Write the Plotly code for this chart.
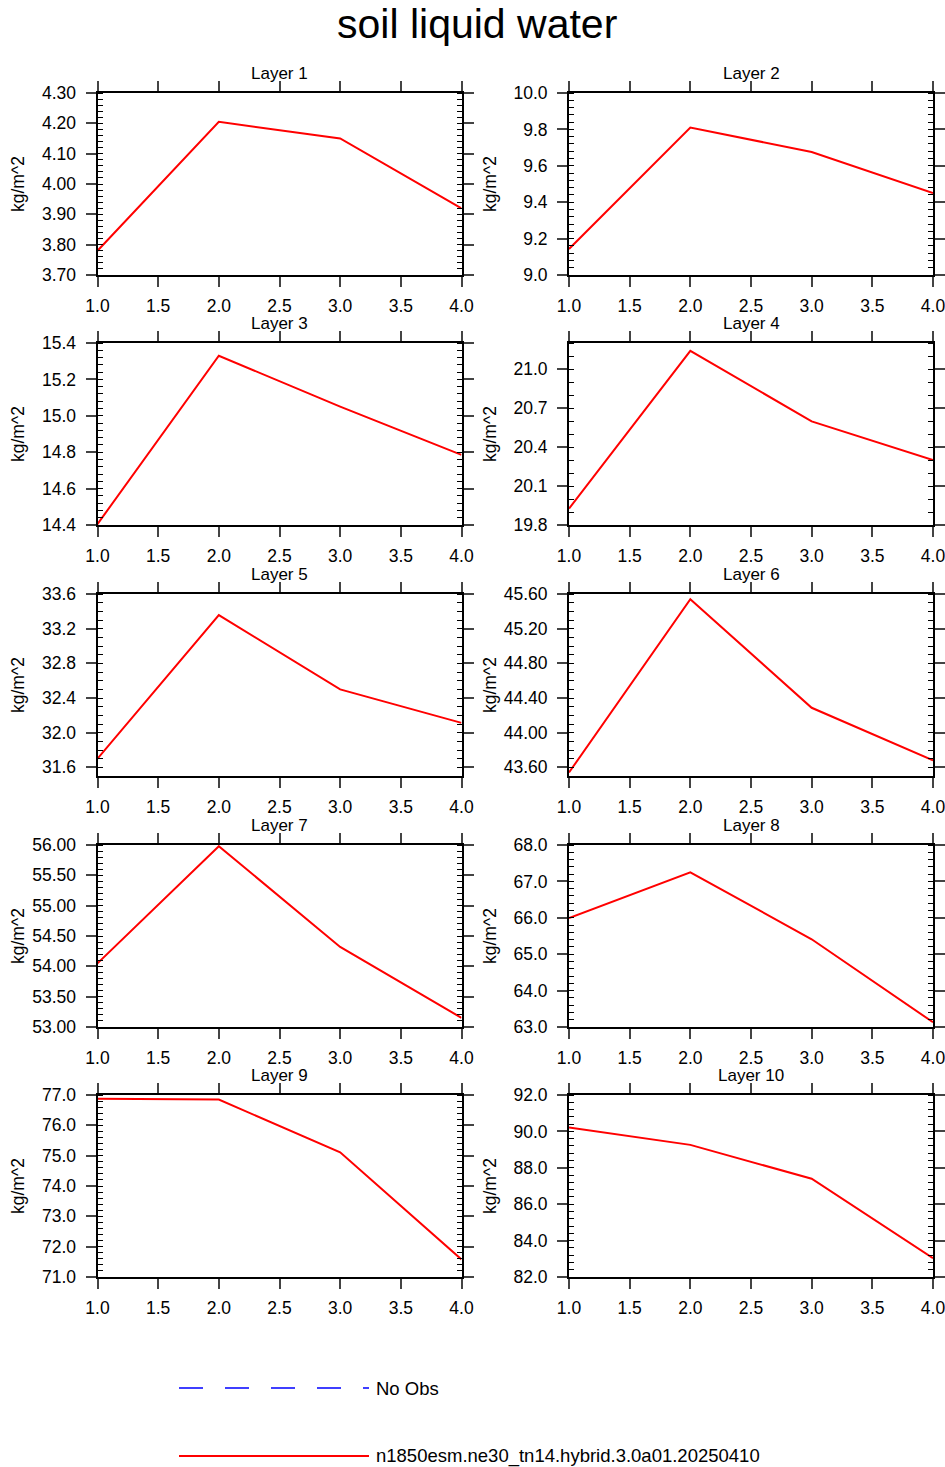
import plotly.graph_objects as go
from plotly.subplots import make_subplots

# data
years = [1.0, 2.0, 3.0, 4.0]
layer_names = ["Layer 1", "Layer 2", "Layer 3", "Layer 4", "Layer 5",
               "Layer 6", "Layer 7", "Layer 8", "Layer 9", "Layer 10"]

layer1 = [3.78, 4.205, 4.15, 3.92]
layer2 = [9.143, 9.81, 9.676, 9.45]
layer3 = [14.405, 15.33, 15.05, 14.785]
layer4 = [19.926, 21.14, 20.597, 20.30]
layer5 = [31.70, 33.357, 32.499, 32.113]
layer6 = [43.54, 45.54, 44.287, 43.68]
layer7 = [54.05, 55.98, 54.32, 53.15]
layer8 = [65.99, 67.25, 65.41, 63.13]
layer9 = [76.88, 76.85, 75.11, 71.58]
layer10 = [90.22, 89.26, 87.40, 83.03]
series = [layer1, layer2, layer3, layer4, layer5,
          layer6, layer7, layer8, layer9, layer10]

# y axis settings per layer: range, first tick, major step, minor step, format
y_ranges = [[3.70, 4.30], [9.0, 10.0], [14.4, 15.4], [19.8, 21.2], [31.5, 33.6],
            [43.5, 45.6], [53.0, 56.0], [63.0, 68.0], [71.0, 77.0], [82.0, 92.0]]
y_tick0 = [3.70, 9.0, 14.4, 19.8, 31.6, 43.6, 53.0, 63.0, 71.0, 82.0]
y_dtick = [0.1, 0.2, 0.2, 0.3, 0.4, 0.4, 0.5, 1.0, 1.0, 2.0]
y_minor = [0.02, 0.04, 0.04, 0.1, 0.1, 0.1, 0.1, 0.2, 0.2, 0.4]
y_fmt = [".2f", ".1f", ".1f", ".1f", ".1f", ".2f", ".2f", ".1f", ".1f", ".1f"]

legend_labels = ["No Obs", "n1850esm.ne30_tn14.hybrid.3.0a01.20250410"]

W, H = 945, 1467
FONT = "Liberation Sans, Arial, Helvetica, sans-serif"


def px(xp):
    return xp / W


def py(yp):
    return 1 - yp / H


col_left = [97.5, 569]
col_w = 364
row_top = [93, 343, 594, 845, 1095]
row_h = 182

fig = make_subplots(rows=5, cols=2)

for i, vals in enumerate(series):
    r, c = i // 2 + 1, i % 2 + 1
    fig.add_trace(go.Scatter(x=years, y=vals, mode="lines",
                             line=dict(color="red", width=2),
                             showlegend=False, hoverinfo="skip"), row=r, col=c)
    x0 = px(col_left[c - 1])
    x1 = px(col_left[c - 1] + col_w)
    y1 = py(row_top[r - 1])
    y0 = py(row_top[r - 1] + row_h)
    fig.update_xaxes(domain=[x0, x1], range=[1, 4], tick0=1, dtick=0.5,
                     tickformat=".1f", ticks="outside", ticklen=10, tickwidth=1.5,
                     showline=True, linewidth=2, linecolor="black", mirror="ticks",
                     showgrid=False, zeroline=False, ticklabelstandoff=4,
                     automargin=False, ticklabeloverflow="allow",
                     tickfont=dict(family=FONT, size=17.5, color="black"),
                     row=r, col=c)
    fig.update_yaxes(domain=[y0, y1], range=y_ranges[i], tick0=y_tick0[i],
                     dtick=y_dtick[i], tickformat=y_fmt[i], ticks="outside",
                     ticklen=10, tickwidth=1.5,
                     minor=dict(ticks="inside", ticklen=5, tickwidth=1.2,
                                tick0=y_tick0[i], dtick=y_minor[i],
                                tickcolor="black", showgrid=False),
                     showline=True, linewidth=2, linecolor="black", mirror="ticks",
                     showgrid=False, zeroline=False, ticklabelstandoff=6,
                     automargin=False, ticklabeloverflow="allow",
                     tickfont=dict(family=FONT, size=17.5, color="black"),
                     row=r, col=c)
    # panel title and y axis title
    fig.add_annotation(text=layer_names[i], xref="paper", yref="paper",
                       x=(x0 + x1) / 2, y=y1 + 8 / H, yanchor="bottom",
                       xanchor="center", showarrow=False,
                       font=dict(family=FONT, size=17, color="black"))
    fig.add_annotation(text="kg/m^2", xref="paper", yref="paper",
                       x=px([18, 490][c - 1]), y=(y0 + y1) / 2, textangle=-90,
                       xanchor="center", yanchor="middle", showarrow=False,
                       font=dict(family=FONT, size=17.5, color="black"))

# legend drawn below the panels
fig.add_shape(type="line", xref="paper", yref="paper",
              x0=px(179), x1=px(369), y0=py(1388), y1=py(1388),
              line=dict(color="blue", width=1.5, dash="24px,22px"))
fig.add_shape(type="line", xref="paper", yref="paper",
              x0=px(179), x1=px(369), y0=py(1456), y1=py(1456),
              line=dict(color="red", width=2))
for lab, ypx in zip(legend_labels, [1388, 1456]):
    fig.add_annotation(text=lab, xref="paper", yref="paper", x=px(374),
                       y=py(ypx), xanchor="left", yanchor="middle",
                       showarrow=False,
                       font=dict(family=FONT, size=18.5, color="black"))

# main title, top of its box on the top edge
fig.add_annotation(text="soil liquid water", xref="paper", yref="paper",
                   x=px(477), y=1, xanchor="center", yanchor="top",
                   showarrow=False, borderpad=0,
                   font=dict(family=FONT, size=41, color="black"))

fig.update_layout(
    width=W, height=H,
    margin=dict(l=0, r=0, t=0, b=0, autoexpand=False),
    paper_bgcolor="white", plot_bgcolor="white",
)

# drop the default 8px body margin so the figure fills the page exactly
fig.write_html("out.html", config={"displayModeBar": False},
               post_script="document.body.style.margin='0';")
